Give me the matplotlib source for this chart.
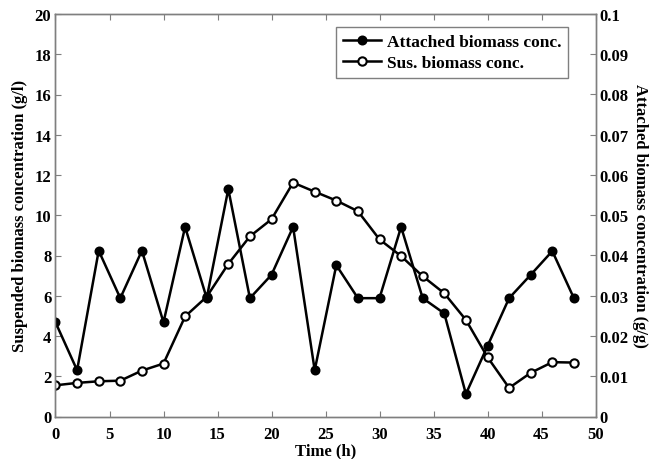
import matplotlib
matplotlib.use("Agg")
import matplotlib.pyplot as plt

plt.rcParams['font.family'] = ['Liberation Serif', 'DejaVu Serif']
plt.rcParams['font.weight'] = 'bold'

# donnees
temps = [0, 2, 4, 6, 8, 10, 12, 14, 16, 18, 20, 22, 24,
         26, 28, 30, 32, 34, 36, 38, 40, 42, 44, 46, 48]
attache = [0.0234, 0.0115, 0.0412, 0.0294, 0.0412, 0.0234, 0.0471, 0.0294,
           0.0565, 0.0294, 0.0352, 0.0471, 0.0115, 0.0376, 0.0294, 0.0294,
           0.0471, 0.0294, 0.0256, 0.0056, 0.0175, 0.0294, 0.0352, 0.0411,
           0.0294]
suspendu = [1.55, 1.67, 1.75, 1.78, 2.28, 2.63, 4.97, 5.95, 7.58, 8.95, 9.8,
            11.62, 11.17, 10.73, 10.2, 8.8, 7.97, 6.97, 6.12, 4.8, 2.95,
            1.42, 2.17, 2.7, 2.68]

gris = '#7f7f7f'
fs = 12

fig = plt.figure(figsize=(6.63, 4.6), dpi=100)
ax = fig.add_axes([55.5 / 663, 1 - 417.5 / 460, 540 / 663, 402.5 / 460])
ax2 = ax.twinx()

l1, = ax2.plot(temps, attache, '-o', color='black', lw=1.8,
               markersize=6, markerfacecolor='black', markeredgewidth=1.2,
               label='Attached biomass conc.')
l2, = ax.plot(temps, suspendu, '-o', color='black', lw=1.8,
              markersize=6, markerfacecolor='white', markeredgewidth=1.5,
              label='Sus. biomass conc.')

ax.set_xlim(0, 50)
ax.set_ylim(0, 20)
ax2.set_ylim(0, 0.1)
ax.set_xticks(range(0, 51, 5))
ax.set_yticks(range(0, 21, 2))
ax2.set_yticks([i / 100 for i in range(0, 11)])
ax2.set_yticklabels(['0'] + ['%.2f' % (i / 100) for i in range(1, 10)] + ['0.1'])

ax.tick_params(axis='x', direction='in', top=True, length=4, color=gris,
               labelsize=fs, pad=7)
ax.tick_params(axis='y', direction='in', length=4, color=gris,
               labelsize=fs, pad=3)
ax2.tick_params(axis='y', direction='in', length=4, color=gris,
                labelsize=fs, pad=3)
for a in (ax, ax2):
    for s in a.spines.values():
        s.set_color(gris)
        s.set_linewidth(1.0)

ax.set_xlabel('Time (h)', fontsize=fs, fontweight='bold', labelpad=0)
ax.set_ylabel('Suspended biomass concentration (g/l)', fontsize=fs,
              fontweight='bold', labelpad=5)
ax2.set_ylabel('Attached biomass concentration (g/g)', fontsize=fs,
               fontweight='bold', rotation=270, labelpad=14)

leg = ax2.legend(handles=[l1, l2], loc='upper right',
                 bbox_to_anchor=(568 / 663, 1 - 28 / 460),
                 bbox_transform=fig.transFigure, borderaxespad=0,
                 fontsize=12.5, fancybox=False, framealpha=1,
                 handlelength=2.2, handletextpad=0.3, borderpad=0.4,
                 labelspacing=0.3)
leg.get_frame().set_edgecolor(gris)
leg.get_frame().set_linewidth(1.0)

plt.savefig('out.png', dpi=100)
